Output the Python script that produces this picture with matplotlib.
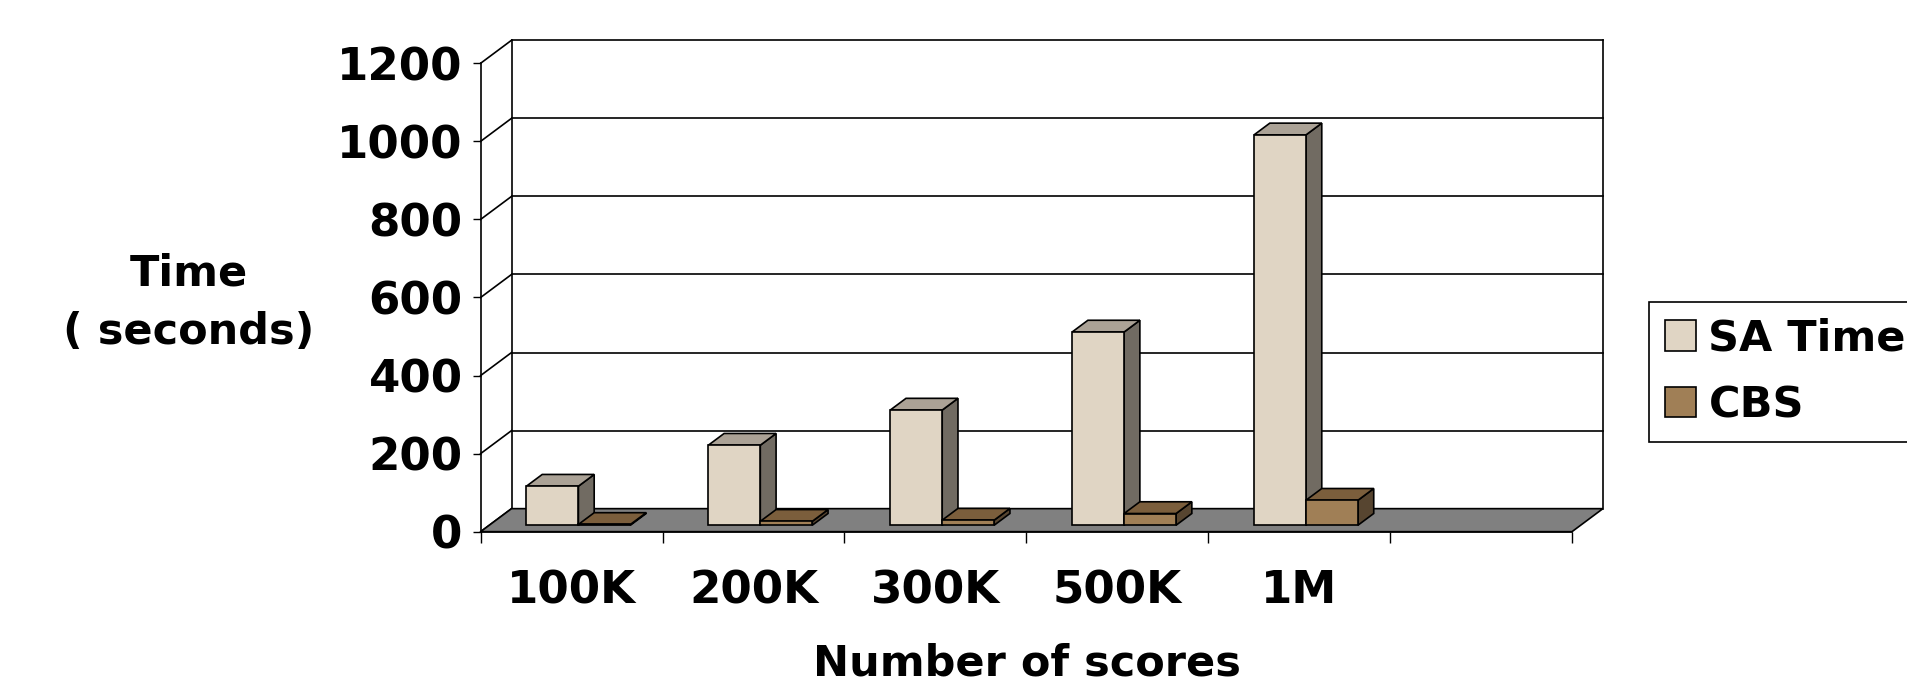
import numpy as np
import matplotlib
matplotlib.use('Agg')
import matplotlib.pyplot as plt
from matplotlib.patches import Polygon, Patch

# ---------------- data ----------------
categories = ['100K', '200K', '300K', '500K', '1M']
n_slots = 6  # excel left one empty slot on the right
sa_time = [100, 205, 295, 495, 1000]
cbs = [2, 10, 13, 30, 64]
yticks = [0, 200, 400, 600, 800, 1000, 1200]

# ---------------- style ----------------
fs = 31
font = {'family': 'DejaVu Sans', 'weight': 'bold', 'size': fs}
tickfont = {'family': 'DejaVu Sans', 'weight': 'bold', 'size': 32.5}
sa_cols = ('#E0D5C4', '#ABA296', '#716B62')   # front, top, side
cbs_cols = ('#A07F56', '#7B5E3C', '#574530')
floor_col = '#808080'
lw = 1.2

# oblique 3d offset (data units) for full depth
ox, oy = 0.17, 59.0
d0, d1 = 0.28, 0.79      # bar depth range
bw = 1 / 3.5             # bar width

fig = plt.figure(figsize=(19.08, 6.96), dpi=100)
ax = fig.add_axes([0.2519, 0.2361, 0.5720, 0.6730])
ax.set_xlim(0, n_slots)
ax.set_ylim(0, yticks[-1])
ax.set_facecolor('none')


def shift(pts, d):
    return [(x + d * ox, y + d * oy) for x, y in pts]


def add_poly(pts, fc, z):
    ax.add_patch(Polygon(pts, closed=True, facecolor=fc, edgecolor='k',
                         linewidth=lw, clip_on=False, zorder=z))


def box(x0, h, cols, z):
    front = shift([(x0, 0), (x0 + bw, 0), (x0 + bw, h), (x0, h)], d0)
    top = shift([(x0, h), (x0 + bw, h)], d0) + shift([(x0 + bw, h), (x0, h)], d1)
    side = shift([(x0 + bw, 0)], d0) + shift([(x0 + bw, 0), (x0 + bw, h)], d1) + shift([(x0 + bw, h)], d0)
    add_poly(side, cols[2], z)
    add_poly(top, cols[1], z)
    add_poly(front, cols[0], z)


# walls + gridlines
ymax = yticks[-1]
for v in yticks:
    ax.plot([0, ox], [v, v + oy], color='k', lw=lw, clip_on=False, zorder=1)
    if v > 0:
        ax.plot([ox, n_slots + ox], [v + oy, v + oy], color='k', lw=lw, clip_on=False, zorder=1)
ax.plot([ox, ox], [oy, ymax + oy], color='k', lw=lw, clip_on=False, zorder=1)
ax.plot([n_slots + ox, n_slots + ox], [oy, ymax + oy], color='k', lw=lw, clip_on=False, zorder=1)

# floor
add_poly([(0, 0), (n_slots, 0), (n_slots + ox, oy), (ox, oy)], floor_col, 1.5)

# bars
for i in range(len(categories)):
    c = i + 0.49
    box(c - bw, sa_time[i], sa_cols, 3 + i)
    box(c, cbs[i], cbs_cols, 3.5 + i)

# axes / ticks
for s in ['top', 'right']:
    ax.spines[s].set_visible(False)
ax.spines['left'].set_linewidth(lw)
ax.spines['bottom'].set_linewidth(lw)
ax.spines['left'].set_zorder(10)
ax.spines['bottom'].set_zorder(10)

ax.set_yticks(yticks)
ax.set_yticklabels([str(v) for v in yticks], fontdict=tickfont)
ax.tick_params(axis='y', direction='out', length=6, width=1, pad=7)

ax.set_xticks(np.arange(n_slots + 1))
ax.set_xticklabels([])
ax.tick_params(axis='x', which='major', direction='out', length=8, width=1)
ax.set_xticks(np.arange(len(categories)) + 0.5, minor=True)
ax.set_xticklabels(categories, minor=True, fontdict=tickfont)
ax.tick_params(axis='x', which='minor', length=0, pad=27)

ax.set_ylabel('Time\n( seconds)', fontdict=font, rotation=0, ha='center', va='center',
              multialignment='center', linespacing=1.5)
ax.yaxis.set_label_coords(-0.2672, 0.488)
ax.set_xlabel('Number of scores', fontdict=font, va='center')
ax.xaxis.set_label_coords(0.5004, -0.2825)

handles = [Patch(facecolor=sa_cols[0], edgecolor='k', linewidth=lw, label='SA Time'),
           Patch(facecolor=cbs_cols[0], edgecolor='k', linewidth=lw, label='CBS')]
leg = ax.legend(handles=handles, loc='upper left', bbox_to_anchor=(1649 / 1908, 1 - 302 / 696),
                bbox_transform=fig.transFigure, prop=font, frameon=True, fancybox=False,
                framealpha=1, edgecolor='k', handlelength=0.72, handleheight=0.7,
                handletextpad=0.3, borderpad=0.36, labelspacing=0.58, borderaxespad=0)
leg.get_frame().set_linewidth(lw)

fig.savefig('out.png', dpi=100)
